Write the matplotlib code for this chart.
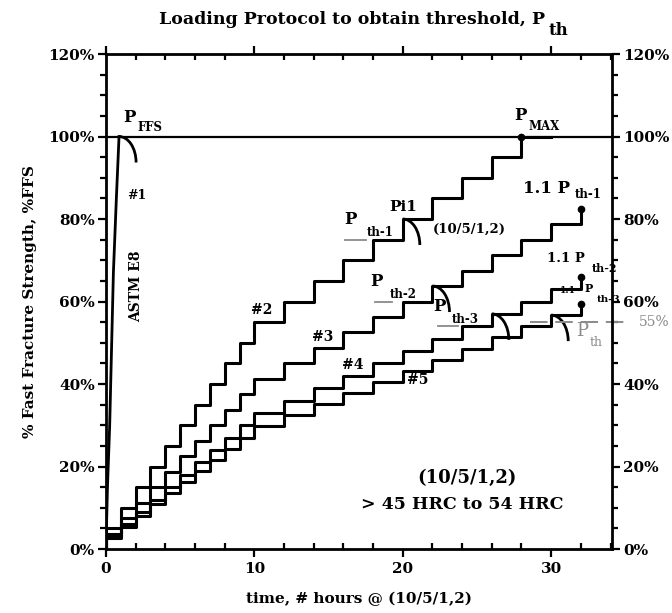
import numpy as np
import matplotlib
matplotlib.use('Agg')
import matplotlib.pyplot as plt
from matplotlib.patches import Arc
from matplotlib.ticker import MultipleLocator, FuncFormatter

plt.rcParams['font.family'] = 'DejaVu Serif'
plt.rcParams['font.weight'] = 'bold'
plt.rcParams['axes.labelweight'] = 'bold'

# ASTM E8 monotonic test (#1)
hours_1 = [0.0, 0.1, 0.25, 0.5, 0.7, 0.88]
load_1 = [0, 15, 30, 67, 85, 100]

# step loading #2 .. #5  (time in hours, load in % of FFS)
hours_2 = [0, 0, 1, 2, 3, 4, 5, 6, 7, 8, 9, 10, 12, 14, 16, 18, 20, 22, 24, 26, 28, 30]
load_2 = [0, 5, 10, 15, 20, 25, 30, 35, 40, 45, 50, 55, 60, 65, 70, 75, 80, 85, 90, 95, 100, 100]

hours_s = [0, 0, 1, 2, 3, 4, 5, 6, 7, 8, 9, 10, 12, 14, 16, 18, 20, 22, 24, 26, 28, 30, 32]
load_3 = [0, 3.75, 7.5, 11.25, 15, 18.75, 22.5, 26.25, 30, 33.75, 37.5, 41.25,
          45, 48.75, 52.5, 56.25, 60, 63.75, 67.5, 71.25, 75, 78.75, 82.5]
load_4 = [0, 3, 6, 9, 12, 15, 18, 21, 24, 27, 30, 33,
          36, 39, 42, 45, 48, 51, 54, 57, 60, 63, 66]
load_5 = [0, 2.7, 5.4, 8.1, 10.8, 13.5, 16.2, 18.9, 21.6, 24.3, 27, 29.7,
          32.4, 35.1, 37.8, 40.5, 43.2, 45.9, 48.6, 51.3, 54, 56.7, 59.4]

# crack initiation points (arcs) and end points (dots)
init_t = [0.88, 20, 22, 26, 30]
init_load = [100, 80, 63.75, 57, 56.7]
end_t = [28, 32, 32, 32]
end_load = [100, 82.5, 66, 59.4]

# threshold levels
pth_levels = [75, 60, 54]
pth_t0 = [16.1, 18.1, 22.4]
pth_t1 = [17.5, 19.3, 23.7]
p_th = 55

gray = '#8a8a8a'

fig = plt.figure(figsize=(6.72, 6.13), dpi=100)
ax = fig.add_axes([0.1577, 0.1044, 0.7530, 0.8075])

ax.axhline(100, color='k', lw=1.6, zorder=2)
ax.plot(hours_1, load_1, 'k', lw=2)
ax.plot(hours_2, load_2, 'k', lw=2.2, drawstyle='steps-post')
ax.plot(hours_s, load_3, 'k', lw=2.2, drawstyle='steps-post')
ax.plot(hours_s, load_4, 'k', lw=2.2, drawstyle='steps-post')
ax.plot(hours_s, load_5, 'k', lw=2.2, drawstyle='steps-post')
ax.plot(end_t, end_load, 'ko', ms=4.5)

for t, p in zip(init_t, init_load):
    ax.add_patch(Arc((t, p - 6.3), 2 * 1.15, 2 * 6.3, theta1=0, theta2=90,
                     color='k', lw=2))

for lv, a, b in zip(pth_levels, pth_t0, pth_t1):
    ax.plot([a, b], [lv, lv], color=gray, lw=1.3)
ax.plot([28.6, 35.2], [p_th, p_th], color=gray, lw=1.4, dashes=(9, 4), clip_on=False)

ax.set_xlim(0, 34.1)
ax.set_ylim(0, 120)
ax.xaxis.set_major_locator(MultipleLocator(10))
ax.xaxis.set_minor_locator(MultipleLocator(2))
ax.yaxis.set_major_locator(MultipleLocator(20))
ax.yaxis.set_minor_locator(MultipleLocator(5))
ax.yaxis.set_major_formatter(FuncFormatter(lambda v, pos: '%d%%' % v))
ax.tick_params(which='both', top=True, right=True, labelright=True, width=1.6,
               labelsize=11)
ax.tick_params(which='major', direction='out', length=6)
ax.tick_params(axis='y', which='major', pad=2)
ax.tick_params(axis='x', which='minor', direction='in', length=4)
ax.tick_params(axis='y', which='minor', direction='out', length=4)
for s in ax.spines.values():
    s.set_linewidth(2)

ax.set_xlabel('time, # hours @ (10/5/1,2)', fontsize=11, labelpad=11)
ax.set_ylabel('% Fast Fracture Strength, %FFS', fontsize=11, labelpad=8)
fig.text(0.524, 0.968, 'Loading Protocol to obtain threshold, P', ha='center',
         va='center', fontsize=12.5)
fig.text(0.831, 0.950, 'th', ha='center', va='center', fontsize=12)

# annotations
ax.text(1.55, 104.7, 'P', fontsize=12, ha='center', va='center')
ax.text(2.97, 102.2, 'FFS', fontsize=8.5, ha='center', va='center')
ax.text(27.9, 105, 'P', fontsize=12, ha='center', va='center')
ax.text(29.5, 102.4, 'MAX', fontsize=8.5, ha='center', va='center')
ax.text(2.1, 85.7, '#1', fontsize=9, ha='center', va='center')
ax.text(2.0, 63.6, 'ASTM E8', fontsize=10, ha='center', va='center', rotation=90)
ax.text(10.5, 58, '#2', fontsize=10, ha='center', va='center')
ax.text(14.6, 51.5, '#3', fontsize=10, ha='center', va='center')
ax.text(16.6, 44.7, '#4', fontsize=10, ha='center', va='center')
ax.text(21.0, 41, '#5', fontsize=10, ha='center', va='center')
ax.text(20.0, 82.9, 'Pi1', fontsize=11, ha='center', va='center')
ax.text(24.5, 77.4, '(10/5/1,2)', fontsize=9.5, ha='center', va='center')
ax.text(16.5, 79.9, 'P', fontsize=12, ha='center', va='center')
ax.text(18.5, 76.7, 'th-1', fontsize=8.5, ha='center', va='center')
ax.text(18.2, 64.9, 'P', fontsize=12, ha='center', va='center')
ax.text(20.0, 61.7, 'th-2', fontsize=8.5, ha='center', va='center')
ax.text(22.45, 58.7, 'P', fontsize=12, ha='center', va='center')
ax.text(24.2, 55.6, 'th-3', fontsize=8.5, ha='center', va='center')
ax.text(29.7, 87.3, '1.1 P', fontsize=12, ha='center', va='center')
ax.text(32.5, 85.9, 'th-1', fontsize=8.5, ha='center', va='center')
ax.text(31.0, 70.4, '1.1 P', fontsize=9.5, ha='center', va='center')
ax.text(33.6, 68.0, 'th-2', fontsize=8, ha='center', va='center', clip_on=False)
ax.text(31.1, 62.6, '1.1', fontsize=6.5, ha='center', va='center')
ax.text(32.5, 63.1, 'P', fontsize=8, ha='center', va='center')
ax.text(33.85, 60.4, 'th-3', fontsize=7.5, ha='center', va='center', clip_on=False)
ax.text(32.1, 52.8, 'P', fontsize=13, ha='center', va='center', color=gray,
        fontweight='normal')
ax.text(33.0, 50.0, 'th', fontsize=9, ha='center', va='center', color=gray,
        fontweight='normal')
ax.text(36.95, p_th, '55%', fontsize=10, ha='center', va='center', color=gray,
        fontweight='normal', clip_on=False)
ax.text(24.3, 17.2, '(10/5/1,2)', fontsize=13, ha='center', va='center')
ax.text(24.0, 10.7, '> 45 HRC to 54 HRC', fontsize=12.5, ha='center', va='center')

fig.savefig('out.png', dpi=100)
